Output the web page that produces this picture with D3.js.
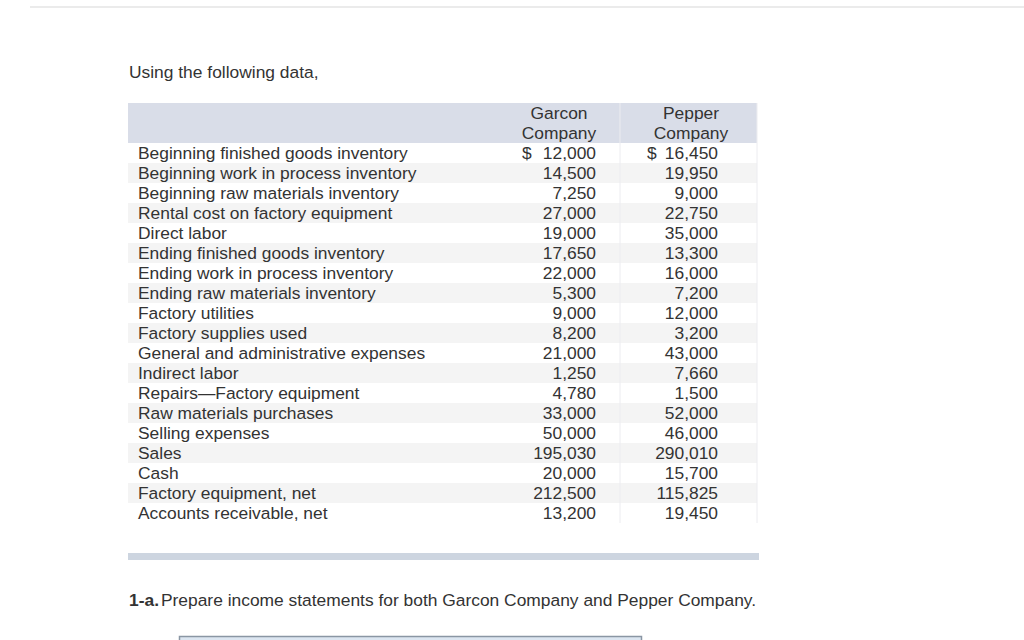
<!DOCTYPE html>
<html>
<head>
<meta charset="utf-8">
<script src="https://d3js.org/d3.v7.min.js"></script>
<style>
  body { margin: 0; background: #fff; }
  svg text { font-family: "Liberation Sans", Arial, sans-serif; font-size: 17.4px; fill: #333; }
</style>
</head>
<body>
<svg id="chart" width="1024" height="640"></svg>
<script>
var items = ["Beginning finished goods inventory", "Beginning work in process inventory",
  "Beginning raw materials inventory", "Rental cost on factory equipment", "Direct labor",
  "Ending finished goods inventory", "Ending work in process inventory",
  "Ending raw materials inventory", "Factory utilities", "Factory supplies used",
  "General and administrative expenses", "Indirect labor", "Repairs\u2014Factory equipment",
  "Raw materials purchases", "Selling expenses", "Sales", "Cash", "Factory equipment, net",
  "Accounts receivable, net"];
var garcon = [12000, 14500, 7250, 27000, 19000, 17650, 22000, 5300, 9000, 8200, 21000,
  1250, 4780, 33000, 50000, 195030, 20000, 212500, 13200];
var pepper = [16450, 19950, 9000, 22750, 35000, 13300, 16000, 7200, 12000, 3200, 43000,
  7660, 1500, 52000, 46000, 290010, 15700, 115825, 19450];
var companies = [["Garcon", "Company"], ["Pepper", "Company"]];
var intro = "Using the following data,";
var question = "Prepare income statements for both Garcon Company and Pepper Company.";

var svg = d3.select("#chart");
var fmt = d3.format(",");

// top rule of the page
svg.append("rect").attr("x", 30).attr("y", 6).attr("width", 994).attr("height", 2).attr("fill", "#ebebeb");

svg.append("text").attr("x", 129).attr("y", 78).text(intro);

var tableLeft = 128, tableRight = 757;
var y = d3.scaleBand().domain(d3.range(items.length)).range([143, 143 + 20 * items.length]);

// header band
svg.append("rect").attr("x", tableLeft).attr("y", 103).attr("width", tableRight - tableLeft)
  .attr("height", 40).attr("fill", "#d9dde8");

var rows = svg.selectAll("g.row").data(items).enter().append("g")
  .attr("class", "row")
  .attr("transform", function(d, i) { return "translate(0," + y(i) + ")"; });

rows.append("rect")
  .attr("x", tableLeft).attr("width", tableRight - tableLeft).attr("height", y.bandwidth())
  .attr("fill", function(d, i) { return i % 2 ? "#f4f4f4" : "#fff"; });

rows.append("text").attr("x", 138).attr("y", 16).text(function(d) { return d; });

var colRight = [596, 718], colCenter = [559, 691], dollarX = [522, 647];
[garcon, pepper].forEach(function(vals, c) {
  rows.append("text")
    .attr("x", colRight[c]).attr("y", 16).attr("text-anchor", "end")
    .text(function(d, i) { return fmt(vals[i]); });
  svg.append("text").attr("x", dollarX[c]).attr("y", y(0) + 16).text("$");
  companies[c].forEach(function(t, k) {
    svg.append("text").attr("x", colCenter[c]).attr("y", 119 + 20 * k)
      .attr("text-anchor", "middle").text(t);
  });
});

// faint column dividers
[620, 757].forEach(function(x) {
  svg.append("line").attr("x1", x).attr("x2", x).attr("y1", 103).attr("y2", y(items.length - 1) + 20)
    .attr("stroke", "#ececf0").attr("stroke-width", 1);
});

// separator bar
svg.append("rect").attr("x", tableLeft).attr("y", 553).attr("width", 631).attr("height", 7).attr("fill", "#cdd5e0");

var q = svg.append("text").attr("x", 129).attr("y", 606);
q.append("tspan").attr("font-weight", "bold").text("1-a.");
q.append("tspan").attr("dx", 2).text(question);

// start of answer box
svg.append("rect").attr("x", 179.5).attr("y", 636.5).attr("width", 462).attr("height", 10)
  .attr("fill", "#dce6f1").attr("stroke", "#8a96a4").attr("stroke-width", 1.5);
</script>
</body>
</html>
